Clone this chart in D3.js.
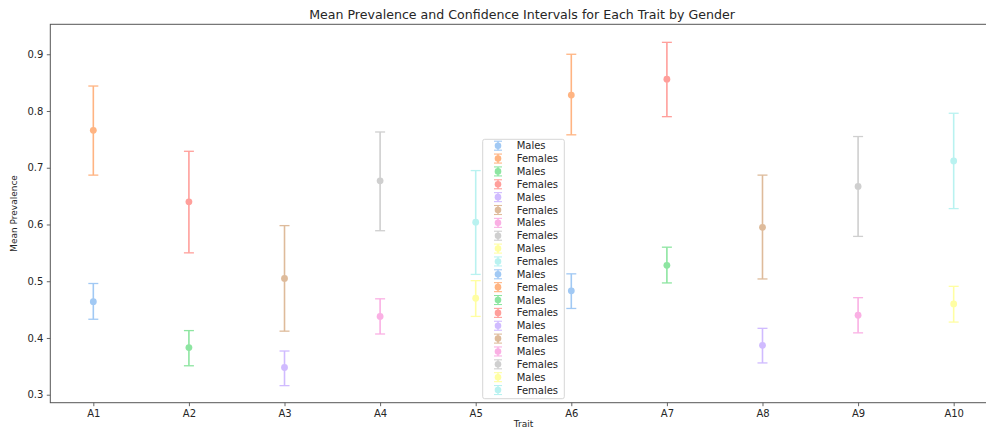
<!DOCTYPE html>
<html>
<head>
<meta charset="utf-8">
<script src="https://cdn.jsdelivr.net/npm/d3@7/dist/d3.min.js"></script>
<style>
  html, body { margin: 0; padding: 0; background: #fff; }
  svg { display: block; font-family: "DejaVu Sans", sans-serif; }
</style>
</head>
<body>
<svg id="chart" width="986" height="428"></svg>
<script>
// Traits and per-gender prevalence with confidence bounds
const traits = ["A1", "A2", "A3", "A4", "A5", "A6", "A7", "A8", "A9", "A10"];
const maleMean  = [0.464, 0.383, 0.348, 0.438, 0.470, 0.483, 0.528, 0.387, 0.440, 0.460];
const maleLow   = [0.433, 0.351, 0.316, 0.407, 0.438, 0.452, 0.497, 0.356, 0.409, 0.428];
const maleHigh  = [0.496, 0.413, 0.377, 0.469, 0.501, 0.513, 0.560, 0.417, 0.471, 0.491];
const femaleMean = [0.766, 0.640, 0.505, 0.677, 0.604, 0.828, 0.856, 0.595, 0.667, 0.712];
const femaleLow  = [0.687, 0.550, 0.412, 0.589, 0.512, 0.758, 0.790, 0.504, 0.579, 0.628];
const femaleHigh = [0.844, 0.729, 0.598, 0.763, 0.695, 0.900, 0.921, 0.687, 0.755, 0.796];
const yTicks = [0.3, 0.4, 0.5, 0.6, 0.7, 0.8, 0.9];
const palette = ["#a1c9f4", "#ffb482", "#8de5a1", "#ff9f9b", "#d0bbff",
                 "#debb9b", "#fab0e4", "#cfcfcf", "#fffea3", "#b9f2f0"];

const svg = d3.select("#chart");
const plot = { left: 50.3, right: 996.7, top: 24.3, bottom: 402.7 };

const x = d3.scaleLinear().domain([-0.45, traits.length - 1 + 0.45]).range([plot.left, plot.right]);
const y = d3.scaleLinear().domain([0.3 - 8.0 / 568.3, 0.9 + 30.0 / 568.3]).range([plot.bottom, plot.top]);

// Build one record per gender per trait; colours cycle through the palette
const rows = [];
traits.forEach((t, i) => {
  rows.push({ i, label: "Males", mean: maleMean[i], lo: maleLow[i], hi: maleHigh[i], color: palette[(2 * i) % 10] });
  rows.push({ i, label: "Females", mean: femaleMean[i], lo: femaleLow[i], hi: femaleHigh[i], color: palette[(2 * i + 1) % 10] });
});

const textColor = "#262626";
const spineColor = "#555";

// Axes
const yAxis = d3.axisLeft(y).tickValues(yTicks).tickFormat(d3.format(".1f")).tickSizeOuter(0).tickSize(3.5).tickPadding(3.5);
const xAxis = d3.axisBottom(x).tickValues(d3.range(traits.length)).tickFormat(i => traits[i]).tickSizeOuter(0).tickSize(3.5).tickPadding(3.5);

const gy = svg.append("g").attr("transform", `translate(${plot.left},0)`).call(yAxis);
const gx = svg.append("g").attr("transform", `translate(0,${plot.bottom})`).call(xAxis);
[gx, gy].forEach(g => {
  g.select(".domain").remove();
  g.selectAll(".tick line").attr("stroke", spineColor).attr("stroke-width", 0.9);
  g.selectAll(".tick text").attr("fill", textColor).style("font-size", "10px").style("font-family", "DejaVu Sans, sans-serif");
});

// Spines
svg.append("rect")
  .attr("x", plot.left).attr("y", plot.top)
  .attr("width", plot.right - plot.left).attr("height", plot.bottom - plot.top)
  .attr("fill", "none").attr("stroke", spineColor).attr("stroke-width", 1);

// Error bars
const bars = svg.append("g").selectAll("g").data(rows).join("g");
const capHalf = 5;
bars.append("line")
  .attr("x1", d => x(d.i)).attr("x2", d => x(d.i))
  .attr("y1", d => y(d.lo)).attr("y2", d => y(d.hi))
  .attr("stroke", d => d.color).attr("stroke-width", 1.6);
bars.append("line")
  .attr("x1", d => x(d.i) - capHalf).attr("x2", d => x(d.i) + capHalf)
  .attr("y1", d => y(d.lo)).attr("y2", d => y(d.lo))
  .attr("stroke", d => d.color).attr("stroke-width", 1.3);
bars.append("line")
  .attr("x1", d => x(d.i) - capHalf).attr("x2", d => x(d.i) + capHalf)
  .attr("y1", d => y(d.hi)).attr("y2", d => y(d.hi))
  .attr("stroke", d => d.color).attr("stroke-width", 1.3);
bars.append("circle")
  .attr("cx", d => x(d.i)).attr("cy", d => y(d.mean)).attr("r", 3.4)
  .attr("fill", d => d.color);

// Title and axis labels
svg.append("text")
  .attr("x", (plot.left + plot.right) / 2 - 1.5).attr("y", 19)
  .attr("text-anchor", "middle").attr("fill", textColor)
  .style("font-size", "12.6px")
  .text("Mean Prevalence and Confidence Intervals for Each Trait by Gender");
svg.append("text")
  .attr("x", (plot.left + plot.right) / 2).attr("y", 427)
  .attr("text-anchor", "middle").attr("fill", textColor)
  .style("font-size", "9px")
  .text("Trait");
svg.append("text")
  .attr("transform", `translate(17,${(plot.top + plot.bottom) / 2}) rotate(-90)`)
  .attr("text-anchor", "middle").attr("fill", textColor)
  .style("font-size", "9px")
  .text("Mean Prevalence");

// Legend
const leg = { x: 482.7, y: 139.3, w: 81.6, h: 259.4, row: 12.86, first: 6.4 };
const lg = svg.append("g");
lg.append("rect")
  .attr("x", leg.x).attr("y", leg.y).attr("width", leg.w).attr("height", leg.h)
  .attr("rx", 2).attr("fill", "rgba(255,255,255,0.8)")
  .attr("stroke", "#d6d6d6").attr("stroke-width", 1);
const items = lg.selectAll("g.item").data(rows).join("g")
  .attr("class", "item")
  .attr("transform", (d, k) => `translate(${leg.x + 15.3},${leg.y + leg.first + k * leg.row})`);
items.append("line").attr("x1", 0).attr("x2", 0).attr("y1", -4.5).attr("y2", 4.5)
  .attr("stroke", d => d.color).attr("stroke-width", 1.4);
items.append("line").attr("x1", -4).attr("x2", 4).attr("y1", -4.5).attr("y2", -4.5)
  .attr("stroke", d => d.color).attr("stroke-width", 1.1);
items.append("line").attr("x1", -4).attr("x2", 4).attr("y1", 4.5).attr("y2", 4.5)
  .attr("stroke", d => d.color).attr("stroke-width", 1.1);
items.append("circle").attr("r", 3.3).attr("fill", d => d.color);
items.append("text")
  .attr("x", 18.7).attr("y", 3.6)
  .attr("fill", textColor).style("font-size", "10px")
  .text(d => d.label);
</script>
</body>
</html>
